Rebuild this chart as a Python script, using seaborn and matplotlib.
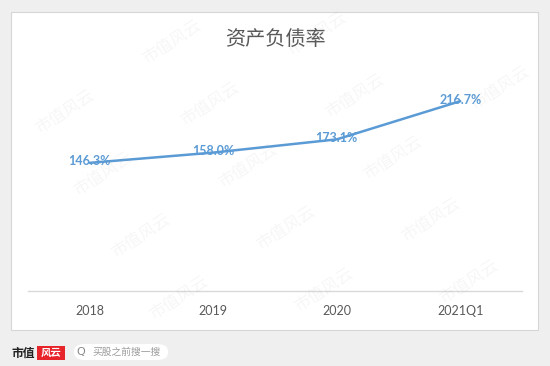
import matplotlib
matplotlib.use("Agg")
import matplotlib.pyplot as plt
import seaborn as sns
import pandas as pd
from matplotlib.patches import Rectangle, FancyBboxPatch

# chart data
periods = ["2018", "2019", "2020", "2021Q1"]
debt_ratio = [146.3, 158.0, 173.1, 216.7]
chart_title = "资产负债率"
watermark = "市值风云"

LINE_BLUE = "#5b9bd5"
TEXT_GRAY = "#595959"

sns.set_style("white")
plt.rcParams["font.family"] = ["Lato", "Noto Sans CJK SC", "DejaVu Sans"]

W, H = 550, 366
fig = plt.figure(figsize=(W / 100, H / 100), dpi=100, facecolor="#efefef")

# white card behind the chart
fig.patches.append(Rectangle((11 / W, 1 - 330 / H), 527 / W, 318 / H,
                             transform=fig.transFigure, facecolor="white",
                             edgecolor="#d6d6d6", lw=0.8, zorder=-5))

ax = fig.add_axes([28 / W, 1 - 291 / H, 494 / W, 219 / H])
ax.set_facecolor("none")
ax.set_zorder(2)

df = pd.DataFrame({"period": periods, "ratio": debt_ratio})
sns.lineplot(data=df, x="period", y="ratio", sort=False, color=LINE_BLUE,
             lw=1.8, ax=ax)

for x, v in zip(df["period"], df["ratio"]):
    ax.annotate(f"{v:.1f}%", (x, v), xytext=(0, 1), textcoords="offset points",
                ha="center", va="center", fontsize=9, fontweight="bold",
                color=LINE_BLUE)

ax.set_xlim(-0.5, len(periods) - 0.5)
ax.set_ylim(0, 250)
ax.set_xlabel("")
ax.set_ylabel("")
ax.set_yticks([])
ax.tick_params(axis="x", length=0, pad=10, labelsize=9, labelcolor=TEXT_GRAY)
sns.despine(ax=ax, left=True)
ax.spines["bottom"].set_color("#d9d9d9")
ax.spines["bottom"].set_linewidth(1)

fig.text(275 / W, 1 - 39 / H, chart_title, ha="center", va="center",
         fontsize=14.5, color=TEXT_GRAY, family=["Noto Sans CJK SC"])

# footer logo and search pill
fig.text(11 / W, 1 - 353 / H, "市值", ha="left", va="center", fontsize=8.5,
         fontweight="bold", color="#222222", family=["Noto Sans CJK SC"])
fig.patches.append(Rectangle((37 / W, 1 - 360 / H), 28 / W, 14 / H,
                             transform=fig.transFigure, facecolor="#e8242b",
                             edgecolor="none"))
fig.text(51 / W, 1 - 353 / H, "风云", ha="center", va="center", fontsize=7.5,
         color="white", fontweight="bold", family=["Noto Sans CJK SC"])
fig.patches.append(FancyBboxPatch((74 / W, 1 - 360 / H), 94 / W, 16 / H,
                                  boxstyle="round,pad=0,rounding_size=0.02",
                                  transform=fig.transFigure, facecolor="white",
                                  edgecolor="none"))
fig.text(81 / W, 1 - 352 / H, "Q", ha="center", va="center", fontsize=8,
         color="#888888", family=["DejaVu Sans"])
fig.text(92 / W, 1 - 352 / H, "买股之前搜一搜", ha="left", va="center",
         fontsize=7, color="#9a9a9a", family=["Noto Sans CJK SC"])

# faint diagonal watermark, kept fully inside the picture
for j in range(-1, 6):
    for i in range(-2, 5):
        cx = 27 + 145 * i + 38 * j
        cy = 50 - 8 * i + 62 * j
        if 40 < cx < W - 40 and 30 < cy < H - 25:
            fig.text(cx / W, 1 - cy / H, watermark, ha="center", va="center",
                     rotation=33, fontsize=12, color="#808080", alpha=0.07,
                     family=["Noto Sans CJK SC"], zorder=10)

fig.savefig("out.png", dpi=100, facecolor=fig.get_facecolor())
